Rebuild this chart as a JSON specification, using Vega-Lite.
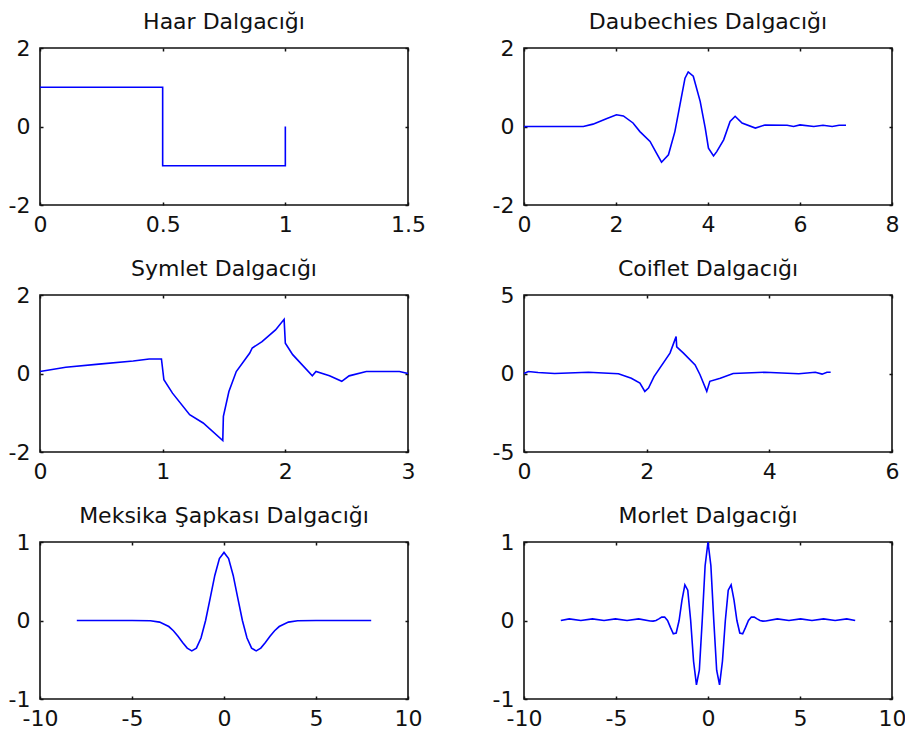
{
  "$schema": "https://vega.github.io/schema/vega-lite/v6.json",
  "background": "white",
  "padding": {"left": 7, "top": 10, "right": 5, "bottom": 2},
  "autosize": {"type": "pad"},
  "bounds": "flush",
  "columns": 2,
  "spacing": {"row": 90, "column": 116},
  "config": {
    "font": "DejaVu Sans",
    "view": {"stroke": "#111", "strokeWidth": 1.6},
    "axis": {
      "domain": false, "grid": false, "ticks": true, "tickSize": -3, "tickWidth": 1.5, "tickColor": "#111",
      "labelFont": "DejaVu Sans", "labelFontSize": 22, "labelColor": "#111",
      "labelFlush": false, "labelOverlap": false, "labelBound": false
    },
    "axisX": {"labelPadding": 12},
    "axisY": {"labelPadding": 13},
    "title": {"font": "DejaVu Sans", "fontSize": 22, "fontWeight": "normal", "color": "#111", "offset": 3},
    "line": {"color": "#0000ff", "strokeWidth": 1.6}
  },
  "datasets": {
    "haar": [{"x":0,"y":1},{"x":0.5,"y":1},{"x":0.5,"y":-1},{"x":1,"y":-1},{"x":1,"y":0}],
    "db": [{"x":0,"y":0},{"x":1.29,"y":0},{"x":1.5,"y":0.06},{"x":1.79,"y":0.2},{"x":2.01,"y":0.3},{"x":2.16,"y":0.27},{"x":2.37,"y":0.09},{"x":2.52,"y":-0.13},{"x":2.74,"y":-0.38},{"x":2.88,"y":-0.68},{"x":2.99,"y":-0.91},{"x":3.14,"y":-0.72},{"x":3.28,"y":-0.13},{"x":3.39,"y":0.55},{"x":3.5,"y":1.23},{"x":3.57,"y":1.39},{"x":3.68,"y":1.28},{"x":3.83,"y":0.64},{"x":3.94,"y":-0.04},{"x":4.01,"y":-0.55},{"x":4.12,"y":-0.75},{"x":4.19,"y":-0.64},{"x":4.34,"y":-0.34},{"x":4.48,"y":0.13},{"x":4.59,"y":0.26},{"x":4.74,"y":0.09},{"x":5.03,"y":-0.04},{"x":5.24,"y":0.04},{"x":5.72,"y":0.03},{"x":5.86,"y":0},{"x":6.0,"y":0.04},{"x":6.3,"y":0},{"x":6.5,"y":0.03},{"x":6.7,"y":0},{"x":6.85,"y":0.03},{"x":7.0,"y":0.03}],
    "sym": [{"x":0,"y":0.05},{"x":0.21,"y":0.16},{"x":0.48,"y":0.24},{"x":0.76,"y":0.32},{"x":0.89,"y":0.37},{"x":0.99,"y":0.37},{"x":1.01,"y":-0.16},{"x":1.08,"y":-0.5},{"x":1.22,"y":-1.05},{"x":1.33,"y":-1.26},{"x":1.49,"y":-1.71},{"x":1.495,"y":-1.09},{"x":1.54,"y":-0.46},{"x":1.6,"y":0.05},{"x":1.71,"y":0.52},{"x":1.73,"y":0.65},{"x":1.81,"y":0.81},{"x":1.92,"y":1.11},{"x":1.99,"y":1.38},{"x":2.0,"y":0.77},{"x":2.06,"y":0.48},{"x":2.22,"y":-0.06},{"x":2.25,"y":0.05},{"x":2.36,"y":-0.06},{"x":2.46,"y":-0.2},{"x":2.52,"y":-0.06},{"x":2.66,"y":0.05},{"x":2.93,"y":0.05},{"x":3.0,"y":0}],
    "coif": [{"x":0,"y":0},{"x":0.07,"y":0.13},{"x":0.23,"y":0.06},{"x":0.5,"y":0},{"x":1.05,"y":0.08},{"x":1.54,"y":-0.02},{"x":1.75,"y":-0.3},{"x":1.89,"y":-0.61},{"x":1.97,"y":-1.14},{"x":2.03,"y":-0.93},{"x":2.12,"y":-0.2},{"x":2.38,"y":1.3},{"x":2.48,"y":2.35},{"x":2.49,"y":1.7},{"x":2.6,"y":1.3},{"x":2.79,"y":0.55},{"x":2.87,"y":-0.08},{"x":2.98,"y":-1.14},{"x":3.03,"y":-0.5},{"x":3.2,"y":-0.3},{"x":3.41,"y":0},{"x":3.93,"y":0.08},{"x":4.48,"y":-0.02},{"x":4.75,"y":0.08},{"x":4.86,"y":-0.04},{"x":4.94,"y":0.08},{"x":5.0,"y":0.08}],
    "mex": [{"x":-8,"y":0},{"x":-5,"y":0},{"x":-4,"y":-0.004},{"x":-3.5,"y":-0.021},{"x":-3,"y":-0.077},{"x":-2.75,"y":-0.13},{"x":-2.5,"y":-0.2},{"x":-2.25,"y":-0.281},{"x":-2,"y":-0.352},{"x":-1.75,"y":-0.387},{"x":-1.5,"y":-0.352},{"x":-1.25,"y":-0.223},{"x":-1,"y":0},{"x":-0.75,"y":0.286},{"x":-0.5,"y":0.574},{"x":-0.25,"y":0.788},{"x":0,"y":0.867},{"x":0.25,"y":0.788},{"x":0.5,"y":0.574},{"x":0.75,"y":0.286},{"x":1,"y":0},{"x":1.25,"y":-0.223},{"x":1.5,"y":-0.352},{"x":1.75,"y":-0.387},{"x":2,"y":-0.352},{"x":2.25,"y":-0.281},{"x":2.5,"y":-0.2},{"x":2.75,"y":-0.13},{"x":3,"y":-0.077},{"x":3.5,"y":-0.021},{"x":4,"y":-0.004},{"x":5,"y":0},{"x":8,"y":0}],
    "mor": [{"x":-8,"y":0},{"x":-7.54,"y":0.02},{"x":-6.91,"y":0},{"x":-6.28,"y":0.02},{"x":-5.65,"y":0},{"x":-5.03,"y":0.02},{"x":-4.4,"y":0},{"x":-3.77,"y":0.02},{"x":-3.142,"y":-0.007},{"x":-2.985,"y":-0.008},{"x":-2.827,"y":0},{"x":-2.67,"y":0.02},{"x":-2.513,"y":0.043},{"x":-2.356,"y":0.044},{"x":-2.199,"y":0},{"x":-2.042,"y":-0.088},{"x":-1.885,"y":-0.169},{"x":-1.728,"y":-0.159},{"x":-1.571,"y":0},{"x":-1.414,"y":0.26},{"x":-1.257,"y":0.454},{"x":-1.1,"y":0.386},{"x":-0.942,"y":0},{"x":-0.785,"y":-0.519},{"x":-0.628,"y":-0.821},{"x":-0.471,"y":-0.633},{"x":-0.314,"y":0},{"x":-0.157,"y":0.698},{"x":0,"y":1},{"x":0.157,"y":0.698},{"x":0.314,"y":0},{"x":0.471,"y":-0.633},{"x":0.628,"y":-0.821},{"x":0.785,"y":-0.519},{"x":0.942,"y":0},{"x":1.1,"y":0.386},{"x":1.257,"y":0.454},{"x":1.414,"y":0.26},{"x":1.571,"y":0},{"x":1.728,"y":-0.159},{"x":1.885,"y":-0.169},{"x":2.042,"y":-0.088},{"x":2.199,"y":0},{"x":2.356,"y":0.044},{"x":2.513,"y":0.043},{"x":2.67,"y":0.02},{"x":2.827,"y":0},{"x":2.985,"y":-0.008},{"x":3.142,"y":-0.007},{"x":3.77,"y":0.02},{"x":4.4,"y":0},{"x":5.03,"y":0.02},{"x":5.65,"y":0},{"x":6.28,"y":0.02},{"x":6.91,"y":0},{"x":7.54,"y":0.02},{"x":8,"y":0}]
  },
  "concat": [
    {
      "title": "Haar Dalgacığı", "width": 368, "height": 157, "data": {"name": "haar"},
      "layer": [
        {"mark": "line", "encoding": {
          "x": {"field": "x", "type": "quantitative", "scale": {"domain": [0, 1.5], "nice": false, "zero": false}, "axis": {"orient": "bottom", "title": null, "values": [0, 0.5, 1, 1.5], "labelExpr": "'' + datum.value"}},
          "y": {"field": "y", "type": "quantitative", "scale": {"domain": [-2, 2], "nice": false}, "axis": {"orient": "left", "title": null, "values": [-2, 0, 2], "labelExpr": "'' + datum.value"}},
          "order": {"value": null}}},
        {"mark": {"type": "line", "opacity": 0}, "encoding": {
          "x": {"field": "x", "type": "quantitative", "scale": {"domain": [0, 1.5], "nice": false, "zero": false}, "axis": {"orient": "top", "title": null, "values": [0, 0.5, 1, 1.5], "labels": false}},
          "y": {"field": "y", "type": "quantitative", "scale": {"domain": [-2, 2], "nice": false}, "axis": {"orient": "right", "title": null, "values": [-2, 0, 2], "labels": false}},
          "order": {"value": null}}}
      ],
      "resolve": {"axis": {"x": "independent", "y": "independent"}}
    },
    {
      "title": "Daubechies Dalgacığı", "width": 368, "height": 157, "data": {"name": "db"},
      "layer": [
        {"mark": "line", "encoding": {
          "x": {"field": "x", "type": "quantitative", "scale": {"domain": [0, 8], "nice": false, "zero": false}, "axis": {"orient": "bottom", "title": null, "values": [0, 2, 4, 6, 8], "labelExpr": "'' + datum.value"}},
          "y": {"field": "y", "type": "quantitative", "scale": {"domain": [-2, 2], "nice": false}, "axis": {"orient": "left", "title": null, "values": [-2, 0, 2], "labelExpr": "'' + datum.value"}},
          "order": {"value": null}}},
        {"mark": {"type": "line", "opacity": 0}, "encoding": {
          "x": {"field": "x", "type": "quantitative", "scale": {"domain": [0, 8], "nice": false, "zero": false}, "axis": {"orient": "top", "title": null, "values": [0, 2, 4, 6, 8], "labels": false}},
          "y": {"field": "y", "type": "quantitative", "scale": {"domain": [-2, 2], "nice": false}, "axis": {"orient": "right", "title": null, "values": [-2, 0, 2], "labels": false}},
          "order": {"value": null}}}
      ],
      "resolve": {"axis": {"x": "independent", "y": "independent"}}
    },
    {
      "title": "Symlet Dalgacığı", "width": 368, "height": 157, "data": {"name": "sym"},
      "layer": [
        {"mark": "line", "encoding": {
          "x": {"field": "x", "type": "quantitative", "scale": {"domain": [0, 3], "nice": false, "zero": false}, "axis": {"orient": "bottom", "title": null, "values": [0, 1, 2, 3], "labelExpr": "'' + datum.value"}},
          "y": {"field": "y", "type": "quantitative", "scale": {"domain": [-2, 2], "nice": false}, "axis": {"orient": "left", "title": null, "values": [-2, 0, 2], "labelExpr": "'' + datum.value"}},
          "order": {"value": null}}},
        {"mark": {"type": "line", "opacity": 0}, "encoding": {
          "x": {"field": "x", "type": "quantitative", "scale": {"domain": [0, 3], "nice": false, "zero": false}, "axis": {"orient": "top", "title": null, "values": [0, 1, 2, 3], "labels": false}},
          "y": {"field": "y", "type": "quantitative", "scale": {"domain": [-2, 2], "nice": false}, "axis": {"orient": "right", "title": null, "values": [-2, 0, 2], "labels": false}},
          "order": {"value": null}}}
      ],
      "resolve": {"axis": {"x": "independent", "y": "independent"}}
    },
    {
      "title": "Coiflet Dalgacığı", "width": 368, "height": 157, "data": {"name": "coif"},
      "layer": [
        {"mark": "line", "encoding": {
          "x": {"field": "x", "type": "quantitative", "scale": {"domain": [0, 6], "nice": false, "zero": false}, "axis": {"orient": "bottom", "title": null, "values": [0, 2, 4, 6], "labelExpr": "'' + datum.value"}},
          "y": {"field": "y", "type": "quantitative", "scale": {"domain": [-5, 5], "nice": false}, "axis": {"orient": "left", "title": null, "values": [-5, 0, 5], "labelExpr": "'' + datum.value"}},
          "order": {"value": null}}},
        {"mark": {"type": "line", "opacity": 0}, "encoding": {
          "x": {"field": "x", "type": "quantitative", "scale": {"domain": [0, 6], "nice": false, "zero": false}, "axis": {"orient": "top", "title": null, "values": [0, 2, 4, 6], "labels": false}},
          "y": {"field": "y", "type": "quantitative", "scale": {"domain": [-5, 5], "nice": false}, "axis": {"orient": "right", "title": null, "values": [-5, 0, 5], "labels": false}},
          "order": {"value": null}}}
      ],
      "resolve": {"axis": {"x": "independent", "y": "independent"}}
    },
    {
      "title": "Meksika Şapkası Dalgacığı", "width": 368, "height": 157, "data": {"name": "mex"},
      "layer": [
        {"mark": "line", "encoding": {
          "x": {"field": "x", "type": "quantitative", "scale": {"domain": [-10, 10], "nice": false, "zero": false}, "axis": {"orient": "bottom", "title": null, "values": [-10, -5, 0, 5, 10], "labelExpr": "'' + datum.value"}},
          "y": {"field": "y", "type": "quantitative", "scale": {"domain": [-1, 1], "nice": false}, "axis": {"orient": "left", "title": null, "values": [-1, 0, 1], "labelExpr": "'' + datum.value"}},
          "order": {"value": null}}},
        {"mark": {"type": "line", "opacity": 0}, "encoding": {
          "x": {"field": "x", "type": "quantitative", "scale": {"domain": [-10, 10], "nice": false, "zero": false}, "axis": {"orient": "top", "title": null, "values": [-10, -5, 0, 5, 10], "labels": false}},
          "y": {"field": "y", "type": "quantitative", "scale": {"domain": [-1, 1], "nice": false}, "axis": {"orient": "right", "title": null, "values": [-1, 0, 1], "labels": false}},
          "order": {"value": null}}}
      ],
      "resolve": {"axis": {"x": "independent", "y": "independent"}}
    },
    {
      "title": "Morlet Dalgacığı", "width": 368, "height": 157, "data": {"name": "mor"},
      "layer": [
        {"mark": "line", "encoding": {
          "x": {"field": "x", "type": "quantitative", "scale": {"domain": [-10, 10], "nice": false, "zero": false}, "axis": {"orient": "bottom", "title": null, "values": [-10, -5, 0, 5, 10], "labelExpr": "'' + datum.value"}},
          "y": {"field": "y", "type": "quantitative", "scale": {"domain": [-1, 1], "nice": false}, "axis": {"orient": "left", "title": null, "values": [-1, 0, 1], "labelExpr": "'' + datum.value"}},
          "order": {"value": null}}},
        {"mark": {"type": "line", "opacity": 0}, "encoding": {
          "x": {"field": "x", "type": "quantitative", "scale": {"domain": [-10, 10], "nice": false, "zero": false}, "axis": {"orient": "top", "title": null, "values": [-10, -5, 0, 5, 10], "labels": false}},
          "y": {"field": "y", "type": "quantitative", "scale": {"domain": [-1, 1], "nice": false}, "axis": {"orient": "right", "title": null, "values": [-1, 0, 1], "labels": false}},
          "order": {"value": null}}}
      ],
      "resolve": {"axis": {"x": "independent", "y": "independent"}}
    }
  ]
}
